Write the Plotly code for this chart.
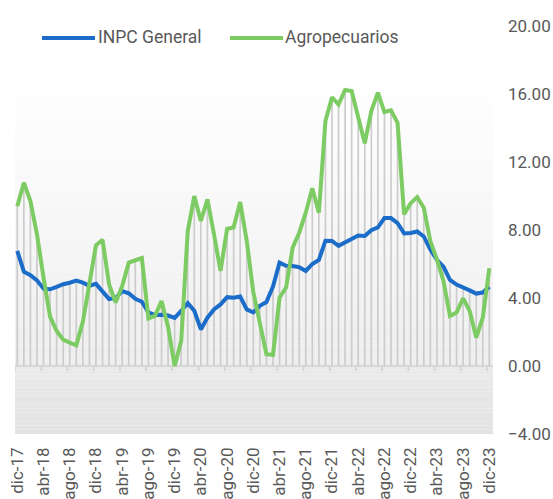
import plotly.graph_objects as go

# ---------------- data ----------------
month_abbr = ['ene', 'feb', 'mar', 'abr', 'may', 'jun', 'jul', 'ago', 'sep', 'oct', 'nov', 'dic']
periods = ['dic-17'] + [f"{m}-{y}" for y in range(18, 24) for m in month_abbr]

inpc_general = [
    6.77,
    5.55, 5.34, 5.04, 4.55, 4.51, 4.65, 4.81, 4.90, 5.02, 4.90, 4.72, 4.83,
    4.37, 3.94, 4.00, 4.41, 4.28, 3.95, 3.78, 3.16, 3.00, 3.02, 2.97, 2.83,
    3.24, 3.70, 3.25, 2.15, 2.84, 3.33, 3.62, 4.05, 4.01, 4.09, 3.33, 3.15,
    3.54, 3.76, 4.67, 6.08, 5.89, 5.88, 5.81, 5.59, 6.00, 6.24, 7.37, 7.36,
    7.07, 7.28, 7.45, 7.68, 7.65, 7.99, 8.15, 8.70, 8.70, 8.41, 7.80, 7.82,
    7.91, 7.62, 6.85, 6.25, 5.84, 5.06, 4.79, 4.64, 4.45, 4.26, 4.32, 4.66,
]

agropecuarios = [
    9.40,
    10.78, 9.70, 7.75, 5.20, 2.90, 2.06, 1.55, 1.37, 1.22, 2.60, 4.70, 7.10,
    7.43, 4.80, 3.73, 4.70, 6.08, 6.24, 6.35, 2.80, 2.95, 3.82, 2.30, 0.00,
    1.47, 7.94, 10.00, 8.53, 9.80, 7.75, 5.59, 8.06, 8.16, 9.64, 7.35, 4.35,
    2.65, 0.69, 0.65, 4.02, 4.61, 6.96, 7.84, 9.02, 10.45, 9.02, 14.41, 15.80,
    15.39, 16.24, 16.18, 14.55, 13.10, 15.00, 16.08, 14.94, 15.04, 14.31, 8.92, 9.58,
    9.94, 9.31, 7.35, 6.27, 5.00, 2.94, 3.14, 3.98, 3.24, 1.67, 2.84, 5.75,
]

tick_labels = periods[::4]
y_ticks = [-4, 0, 4, 8, 12, 16, 20]

# ---------------- styling ----------------
W, H = 553, 499
ML, MR, MT, MB = 15, 60, 26, 65
PW, PH = W - ML - MR, H - MT - MB
BLUE = '#1b6dc9'
GREEN = '#7dcb63'
TXT = '#595959'
FONT = 'Roboto'
Y0, Y1 = -4, 20
X0, X1 = -0.35, 72.56


def px_x(px):
    return (px - ML) / PW


def px_y(py):
    return (MT + PH - py) / PH


fig = go.Figure()

# gradient background bands
shapes = []
nb = 96
for k in range(nb):
    ya = Y0 + (Y1 - Y0) * k / nb
    yb = Y0 + (Y1 - Y0) * (k + 1) / nb
    ym = (ya + yb) / 2
    if ym >= 0:
        t = min(ym / 17.0, 1.0)
        c = round(237 + (255 - 237) * t ** 0.9)
    else:
        t = (ym - Y0) / (0 - Y0)
        c = round(226 + (234 - 226) * t)
    shapes.append(dict(type='rect', xref='x', yref='y', x0=X0, x1=X1, y0=ya, y1=yb,
                       fillcolor=f'rgb({c},{c},{c})', line=dict(width=0), layer='below'))

# zero line and tick marks
shapes.append(dict(type='line', xref='x', yref='y', x0=X0, x1=X1, y0=0, y1=0,
                   line=dict(color='#d2d2d2', width=1.5), layer='below'))
for i in range(0, len(periods), 4):
    shapes.append(dict(type='line', xref='x', yref='y', x0=i - 0.35, x1=i - 0.35,
                       y0=0, y1=-0.3, line=dict(color='#d2d2d2', width=1.5), layer='below'))

# manual legend
legend_items = [('INPC General', BLUE, 42, 95, 96), ('Agropecuarios', GREEN, 230, 283, 283)]
annotations = []
for name, col, xa, xb, xt in legend_items:
    shapes.append(dict(type='line', xref='paper', yref='paper', x0=px_x(xa), x1=px_x(xb),
                       y0=px_y(38), y1=px_y(38), line=dict(color=col, width=4)))
    annotations.append(dict(xref='paper', yref='paper', x=px_x(xt), y=px_y(37),
                            xanchor='left', yanchor='middle', showarrow=False,
                            text=name, font=dict(family=FONT, size=17.5, color=TXT)))

# drop lines from zero to the higher of the two series
dx, dy = [], []
for i, p in enumerate(periods):
    dx += [i, i, None]
    dy += [0, max(inpc_general[i], agropecuarios[i]), None]
fig.add_trace(go.Scatter(x=dx, y=dy, mode='lines', line=dict(color='#cccccc', width=1.7),
                         hoverinfo='skip', showlegend=False))

xi = list(range(len(periods)))
fig.add_trace(go.Scatter(x=xi, y=inpc_general, mode='lines', name='INPC General',
                         line=dict(color=BLUE, width=4), showlegend=False,
                         customdata=periods, hovertemplate='%{customdata}: %{y:.2f}<extra></extra>'))
fig.add_trace(go.Scatter(x=xi, y=agropecuarios, mode='lines', name='Agropecuarios',
                         line=dict(color=GREEN, width=4), showlegend=False,
                         customdata=periods, hovertemplate='%{customdata}: %{y:.2f}<extra></extra>'))

fig.update_layout(
    width=W, height=H,
    margin=dict(l=ML, r=MR, t=MT, b=MB, pad=0, autoexpand=False),
    paper_bgcolor='white', plot_bgcolor='white',
    shapes=shapes, annotations=annotations,
    showlegend=False,
    font=dict(family=FONT, color=TXT),
)
fig.update_xaxes(
    range=[X0, X1], tickmode='array', tickvals=xi[::4], ticktext=tick_labels,
    tickangle=-90, showgrid=False, zeroline=False, showline=False, ticks='',
    tickfont=dict(family=FONT, size=17, color=TXT), ticklabelstandoff=9,
    automargin=False,
)
fig.update_yaxes(
    range=[Y0, Y1], side='right', tickmode='array', tickvals=y_ticks, tickformat='.2f',
    showgrid=False, zeroline=False, showline=False, ticks='',
    tickfont=dict(family=FONT, size=17, color=TXT), ticklabelstandoff=14,
    automargin=False,
)

fig.write_html('out.html', config={'displayModeBar': False},
               post_script="document.body.style.margin='0';document.body.style.overflow='hidden';")
